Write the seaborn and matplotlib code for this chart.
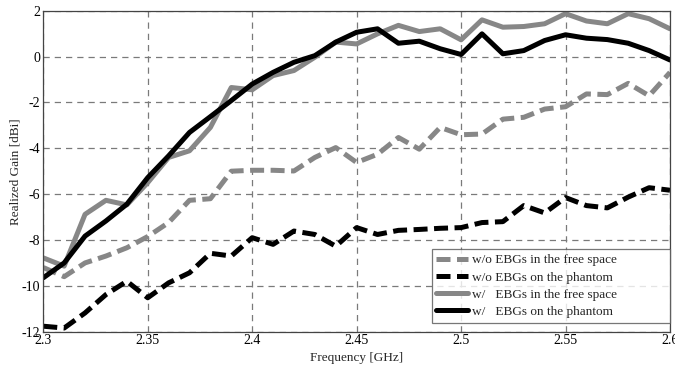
import numpy as np
import pandas as pd
import matplotlib
matplotlib.use("Agg")
import matplotlib.pyplot as plt
import seaborn as sns

freq = [2.30, 2.31, 2.32, 2.33, 2.34, 2.35, 2.36, 2.37, 2.38, 2.39, 2.40,
        2.41, 2.42, 2.43, 2.44, 2.45, 2.46, 2.47, 2.48, 2.49, 2.50,
        2.51, 2.52, 2.53, 2.54, 2.55, 2.56, 2.57, 2.58, 2.59, 2.60]

wo_free = [-9.2, -9.6, -9.0, -8.7, -8.34, -7.85, -7.24, -6.27, -6.2, -5.0, -4.96,
           -4.96, -4.99, -4.4, -3.97, -4.62, -4.26, -3.53, -4.04, -3.09, -3.41,
           -3.38, -2.73, -2.65, -2.29, -2.19, -1.63, -1.66, -1.17, -1.71, -0.69]

wo_phantom = [-11.76, -11.84, -11.18, -10.38, -9.8, -10.52, -9.87, -9.43, -8.58, -8.7, -7.9,
              -8.19, -7.61, -7.76, -8.27, -7.46, -7.76, -7.58, -7.54, -7.49, -7.46,
              -7.24, -7.2, -6.5, -6.82, -6.15, -6.5, -6.6, -6.13, -5.72, -5.83]

w_free = [-8.78, -9.14, -6.88, -6.27, -6.47, -5.5, -4.4, -4.11, -3.09, -1.35, -1.45,
          -0.83, -0.61, -0.03, 0.63, 0.55, 0.99, 1.36, 1.09, 1.21, 0.73,
          1.6, 1.28, 1.31, 1.43, 1.87, 1.55, 1.43, 1.87, 1.65, 1.21]

w_phantom = [-9.65, -9.0, -7.83, -7.17, -6.44, -5.28, -4.33, -3.31, -2.62, -1.92, -1.2,
             -0.69, -0.25, 0.04, 0.63, 1.06, 1.21, 0.58, 0.67, 0.34, 0.09,
             0.99, 0.12, 0.26, 0.7, 0.95, 0.8, 0.74, 0.58, 0.26, -0.15]

labels = ["w/o EBGs in the free space", "w/o EBGs on the phantom",
          "w/   EBGs in the free space", "w/   EBGs on the phantom"]

xticks = [2.3, 2.35, 2.4, 2.45, 2.5, 2.55, 2.6]
xticklabels = ["2.3", "2.35", "2.4", "2.45", "2.5", "2.55", "2.6"]
yticks = [-12, -10, -8, -6, -4, -2, 0, 2]

df = pd.DataFrame({
    "freq": freq * 4,
    "gain": wo_free + wo_phantom + w_free + w_phantom,
    "series": sum([[l] * len(freq) for l in labels], []),
})

sns.set_style("white")
plt.rcParams["font.family"] = ["Liberation Serif", "DejaVu Serif"]
plt.rcParams["axes.unicode_minus"] = False

fig = plt.figure(figsize=(6.75, 3.66), dpi=100)
ax = fig.add_axes([0.0641, 0.0937, 0.9285, 0.8771])

gray = "#878787"
styles = {
    labels[0]: dict(color=gray, dashes=(2.8, 1.3)),
    labels[1]: dict(color="black", dashes=(2.8, 1.3)),
    labels[2]: dict(color=gray),
    labels[3]: dict(color="black"),
}
for lab in labels:
    sub = df[df["series"] == lab]
    st = styles[lab]
    line_kw = {}
    if "dashes" in st:
        line_kw["dashes"] = st["dashes"]
    sns.lineplot(data=sub, x="freq", y="gain", ax=ax, color=st["color"],
                 linewidth=3.6, label=lab, **line_kw)

ax.set_xlim(2.3, 2.6)
ax.set_ylim(-12, 2)
ax.set_xticks(xticks)
ax.set_xticklabels(xticklabels)
ax.set_yticks(yticks)
ax.grid(True, color="#7a7a7a", linestyle=(0, (5, 4)), linewidth=0.9)
ax.tick_params(axis="both", direction="in", length=4, labelsize=10, pad=2,
               colors="black")
for s in ax.spines.values():
    s.set_color("#444444")
    s.set_linewidth(0.9)

ax.set_xlabel("Frequency [GHz]", fontsize=9.5, labelpad=3)
ax.set_ylabel("Realized Gain [dBi]", fontsize=9.5, labelpad=0)

leg = ax.legend(loc="lower left", bbox_to_anchor=(0.62, 0.028, 0.38, 0.23),
                mode="expand", fontsize=9.5, frameon=True, fancybox=False,
                edgecolor="#555555", handlelength=2.4, handletextpad=0.3,
                borderpad=0.35, labelspacing=0.38, borderaxespad=0.0)
leg.get_frame().set_linewidth(0.9)

fig.savefig("out.png", dpi=100)
